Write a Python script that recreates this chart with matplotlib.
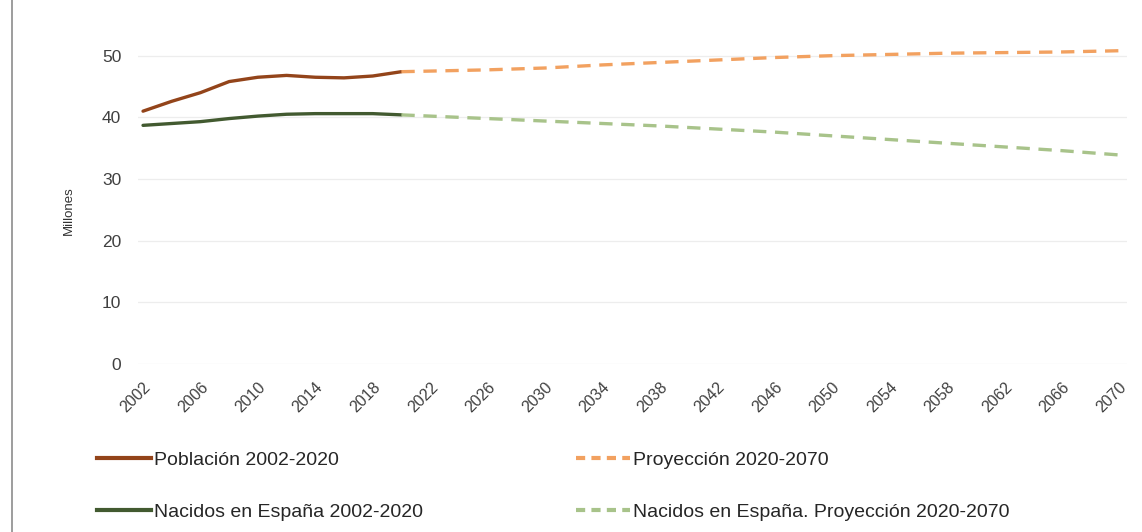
import matplotlib
matplotlib.use("Agg")
import matplotlib.pyplot as plt
from matplotlib.lines import Line2D

# population in millions
years_hist = [2002, 2004, 2006, 2008, 2010, 2012, 2014, 2016, 2018, 2020]
pob_hist = [41.0, 42.6, 44.0, 45.8, 46.5, 46.8, 46.5, 46.4, 46.7, 47.4]
nac_hist = [38.7, 39.0, 39.3, 39.8, 40.2, 40.5, 40.6, 40.6, 40.6, 40.4]

years_proj = [2020, 2022, 2026, 2030, 2034, 2038, 2042, 2046, 2050, 2054, 2058, 2062, 2066, 2070]
pob_proj = [47.4, 47.5, 47.7, 48.0, 48.5, 48.9, 49.3, 49.7, 50.0, 50.2, 50.4, 50.5, 50.6, 50.8]
nac_proj = [40.4, 40.2, 39.8, 39.4, 39.0, 38.6, 38.1, 37.6, 37.0, 36.4, 35.8, 35.2, 34.6, 33.9]

xticks = list(range(2002, 2071, 4))
yticks = [0, 10, 20, 30, 40, 50]

labels_left = ["Población 2002-2020", "Nacidos en España 2002-2020"]
labels_right = ["Proyección 2020-2070", "Nacidos en España. Proyección 2020-2070"]

C_POB = "#93441A"
C_POB_P = "#F2A160"
C_NAC = "#425A30"
C_NAC_P = "#A8C38A"
FONT = ["Liberation Sans", "DejaVu Sans"]

fig = plt.figure(figsize=(11.42, 5.32), dpi=100)
ax = fig.add_axes([138 / 1142, 1 - 364 / 532, 989 / 1142, (364 - 31) / 532])

ax.plot(years_hist, pob_hist, color=C_POB, lw=2.4, solid_capstyle="round")
ax.plot(years_hist, nac_hist, color=C_NAC, lw=2.4, solid_capstyle="round")
ax.plot(years_proj, pob_proj, color=C_POB_P, lw=2.4, ls=(0, (4, 2.6)))
ax.plot(years_proj, nac_proj, color=C_NAC_P, lw=2.4, ls=(0, (4, 2.6)))

ax.set_xlim(2001.65, 2070.55)
ax.set_ylim(0, 54)
ax.set_yticks(yticks)
ax.set_xticks(xticks)
ax.set_xticklabels([str(y) for y in xticks], rotation=45, ha="right",
                   rotation_mode="anchor", fontsize=11.5, color="#404040",
                   family=FONT)
ax.tick_params(axis="y", labelsize=12.5, labelcolor="#404040", length=0, pad=12)
ax.tick_params(axis="x", length=0, pad=11)
for t in ax.get_yticklabels():
    t.set_family(FONT)
ax.grid(axis="y", color="#EDEDED", lw=0.9)
ax.set_axisbelow(True)
for s in ax.spines.values():
    s.set_visible(False)
ax.set_ylabel("Millones", fontsize=9.5, color="#333333", family=FONT)
ax.yaxis.set_label_coords(-63 / 989, 0.46)

h_left = [Line2D([], [], color=C_POB, lw=3),
          Line2D([], [], color=C_NAC, lw=3)]
h_right = [Line2D([], [], color=C_POB_P, lw=3, ls=(0, (2.2, 1.5))),
           Line2D([], [], color=C_NAC_P, lw=3, ls=(0, (2.2, 1.5)))]
leg_kw = dict(loc="upper left", frameon=False, borderpad=0, borderaxespad=0,
              prop={"family": FONT, "size": 14}, labelcolor="#262626",
              handlelength=2.8, handletextpad=0.15, labelspacing=1.8)
fig.legend(h_left, labels_left, bbox_to_anchor=(97 / 1142, 1 - 451 / 532), **leg_kw)
fig.legend(h_right, labels_right, bbox_to_anchor=(576 / 1142, 1 - 451 / 532), **leg_kw)

fig.add_artist(Line2D([12 / 1142, 12 / 1142], [0, 1], color="#8C8C8C", lw=1.2))

fig.savefig("out.png", dpi=100)
